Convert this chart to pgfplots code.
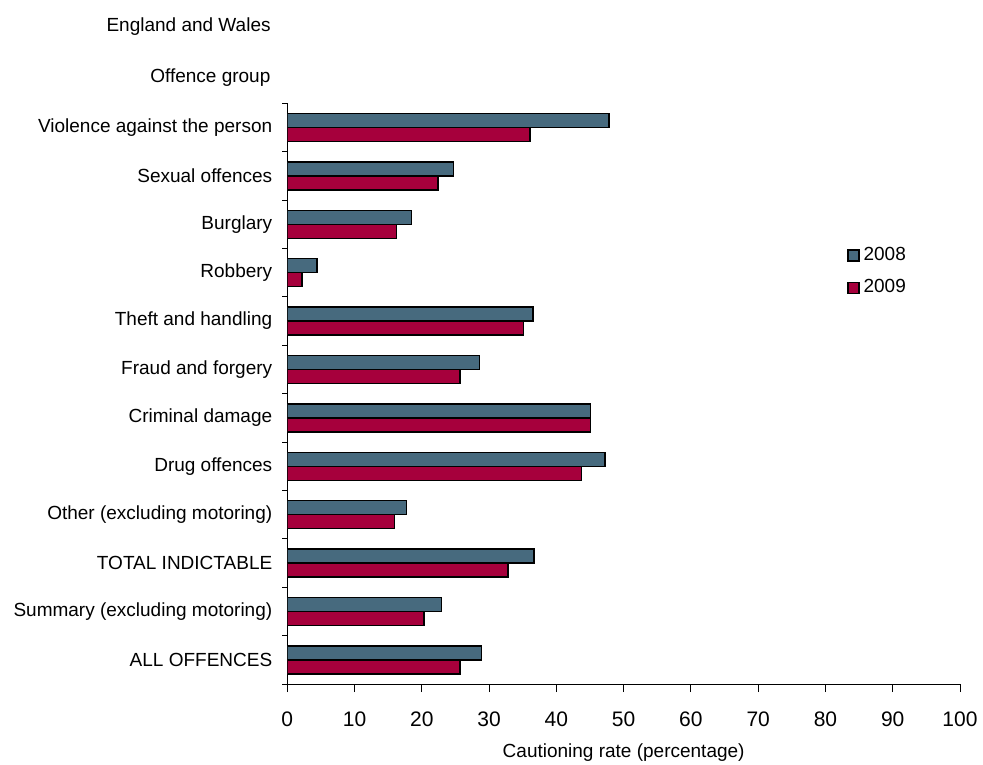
\documentclass[border=0pt]{standalone}
\usepackage{fontspec}
\setmainfont{Liberation Sans}
\usepackage{pgfplots}
\pgfplotsset{compat=1.18}
\definecolor{c2008}{RGB}{71,106,126}
\definecolor{c2009}{RGB}{166,0,60}
\begin{document}
\begin{tikzpicture}
\path[use as bounding box] (0,0) rectangle (491.5pt,-382pt);
\node[anchor=east, font=\fontsize{9.5pt}{11pt}\selectfont, inner sep=0pt] at (135.5pt,-13.35pt) {England and Wales};
\node[anchor=east, font=\fontsize{9.5pt}{11pt}\selectfont, inner sep=0pt] at (135.4pt,-38.85pt) {Offence group};
\begin{axis}[
  at={(143.65pt,-342pt)}, anchor=south west,
  scale only axis, width=336.35pt, height=290.35pt,
  xbar, bar width=7pt,
  xmin=0, xmax=100,
  ymin=-0.5, ymax=11.5, y dir=reverse,
  axis x line*=bottom, axis y line*=left,
  x axis line style={-, line width=0.5pt},
  y axis line style={-, line width=0.5pt},
  tick align=outside,
  xtick={0,10,...,100},
  major tick length=4pt, minor tick length=2.5pt,
  ytick={0,...,11},
  yticklabels={Violence against the person,Sexual offences,Burglary,Robbery,Theft and handling,Fraud and forgery,Criminal damage,Drug offences,Other (excluding motoring),TOTAL INDICTABLE,Summary (excluding motoring),ALL OFFENCES},
  minor ytick={-0.5,0.5,...,11.5},
  major y tick style={draw=none},
  minor y tick style={draw=black, line width=0.5pt},
  major x tick style={draw=black, line width=0.5pt},
  /pgf/number format/assume math mode=true,
  xticklabel style={font=\fontsize{10.5pt}{12pt}\selectfont, anchor=center, yshift=-13.5pt},
  yticklabel style={font=\fontsize{9.5pt}{11pt}\selectfont},
  xlabel={Cautioning rate (percentage)},
  xlabel style={font=\fontsize{9.5pt}{11pt}\selectfont, at={(axis description cs:0.5,0)}, anchor=center, yshift=-34.5pt},
  legend style={at={(0.832,0.710)}, anchor=west, draw=none, fill=none, font=\fontsize{9.5pt}{11pt}\selectfont, row sep=4pt, inner sep=0pt},
  legend cell align=left,
  legend image code/.code={\draw[#1, line width=0.6pt] (0pt,-2.75pt) rectangle (5.5pt,2.75pt);},
]
\addplot[fill=c2008, draw=black, line width=0.7pt, bar shift=3.5pt] coordinates {
(47.8,0) (24.7,1) (18.5,2) (4.4,3) (36.5,4) (28.6,5) (45.1,6) (47.2,7) (17.7,8) (36.7,9) (22.9,10) (28.9,11)};
\addlegendentry{2008}
\addplot[fill=c2009, draw=black, line width=0.7pt, bar shift=-3.5pt] coordinates {
(36.1,0) (22.4,1) (16.2,2) (2.2,3) (35.1,4) (25.7,5) (45.1,6) (43.7,7) (15.9,8) (32.8,9) (20.3,10) (25.7,11)};
\addlegendentry{2009}
\end{axis}
\end{tikzpicture}
\end{document}
